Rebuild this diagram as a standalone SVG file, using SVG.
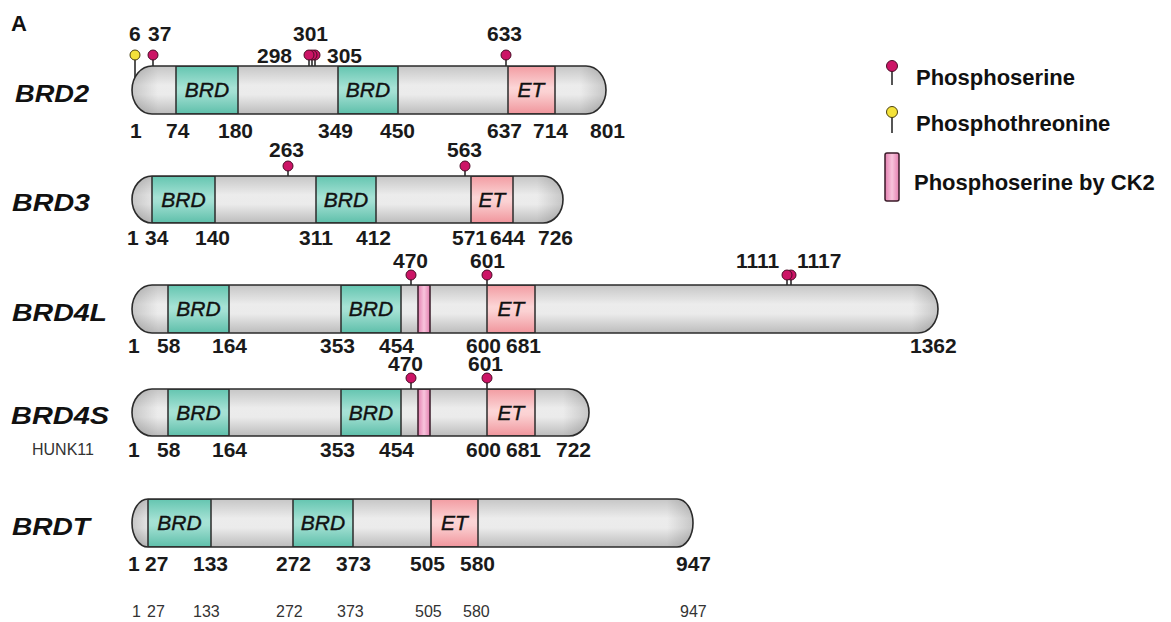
<svg xmlns="http://www.w3.org/2000/svg" width="1171" height="622" viewBox="0 0 1171 622">
<style>
.bar{fill:url(#gGray)}
.out{fill:none;stroke:#2b2b2b;stroke-width:1.6}
.brd{fill:url(#gTeal);stroke:#2b2b2b;stroke-width:1.5}
.et{fill:url(#gPink);stroke:#2b2b2b;stroke-width:1.5}
.ck2{fill:url(#gCK2);stroke:#3a1a28;stroke-width:1.5}
.capL{fill:url(#gCapL)}
.capR{fill:url(#gCapR)}
.gene{font-family:"Liberation Sans",Arial,sans-serif;font-weight:bold;font-style:italic;font-size:24px;fill:#111}
.dom{font-family:"Liberation Sans",Arial,sans-serif;font-style:italic;font-size:21px;fill:#111;stroke:#111;stroke-width:0.4;text-anchor:middle}
.num{font-family:"Liberation Sans",Arial,sans-serif;font-weight:bold;font-size:21px;fill:#1a1a1a}
.sm{font-family:"Liberation Sans",Arial,sans-serif;font-size:16px;fill:#333}
.leg{font-family:"Liberation Sans",Arial,sans-serif;font-weight:bold;font-size:22px;fill:#111}
.stem{stroke:#2b2b2b;stroke-width:1.6}
.ps{fill:#cc1466;stroke:#4a0c26;stroke-width:1}
.pt{fill:#f4e23a;stroke:#4a4010;stroke-width:1}
</style>
<defs>
<linearGradient id="gGray" x1="0" y1="0" x2="0" y2="1">
<stop offset="0" stop-color="#c6c6c6"/><stop offset="0.4" stop-color="#ececec"/><stop offset="0.6" stop-color="#ebebeb"/><stop offset="1" stop-color="#bcbcbc"/>
</linearGradient>
<linearGradient id="gCapL" x1="0" y1="0" x2="1" y2="0">
<stop offset="0" stop-color="#000" stop-opacity="0.16"/><stop offset="1" stop-color="#000" stop-opacity="0"/>
</linearGradient>
<linearGradient id="gCapR" x1="0" y1="0" x2="1" y2="0">
<stop offset="0" stop-color="#000" stop-opacity="0"/><stop offset="1" stop-color="#000" stop-opacity="0.16"/>
</linearGradient>
<linearGradient id="gTeal" x1="0" y1="0" x2="0" y2="1">
<stop offset="0" stop-color="#64c5b0"/><stop offset="0.45" stop-color="#a6e2d5"/><stop offset="0.55" stop-color="#a3e0d3"/><stop offset="1" stop-color="#5ebfaa"/>
</linearGradient>
<linearGradient id="gPink" x1="0" y1="0" x2="0" y2="1">
<stop offset="0" stop-color="#f29ca2"/><stop offset="0.45" stop-color="#fcd5d6"/><stop offset="0.55" stop-color="#fbd1d2"/><stop offset="1" stop-color="#f0959c"/>
</linearGradient>
<linearGradient id="gCK2" x1="0" y1="0" x2="1" y2="0">
<stop offset="0" stop-color="#e47fb0"/><stop offset="0.5" stop-color="#f8c4dc"/><stop offset="1" stop-color="#e47fb0"/>
</linearGradient>
<clipPath id="c2"><rect x="132" y="66" width="474" height="48" rx="20" ry="24"/></clipPath>
<clipPath id="c3"><rect x="132" y="176" width="431" height="47" rx="20" ry="23.5"/></clipPath>
<clipPath id="c4l"><rect x="132" y="285" width="806" height="48" rx="20" ry="24"/></clipPath>
<clipPath id="c4s"><rect x="132" y="389" width="457" height="47" rx="20" ry="23.5"/></clipPath>
<clipPath id="ct"><rect x="132" y="499" width="561" height="48" rx="16" ry="24"/></clipPath>
</defs>

<rect width="1171" height="622" fill="#ffffff"/>
<text x="11" y="31" font-family="Liberation Sans, Arial, sans-serif" font-weight="bold" font-size="22" fill="#111">A</text>

<g id="connectors"/>

<g id="BRD2">
<line class="stem" x1="135" y1="55" x2="135" y2="82"/>
<line class="stem" x1="153" y1="55" x2="153" y2="72"/>
<line class="stem" x1="309" y1="55" x2="309" y2="72"/>
<line class="stem" x1="312" y1="55" x2="312" y2="72"/>
<line class="stem" x1="315" y1="55" x2="315" y2="72"/>
<line class="stem" x1="506" y1="55" x2="506" y2="72"/>
<rect class="bar" x="132" y="66" width="474" height="48" rx="20" ry="24"/>
<g clip-path="url(#c2)">
<rect class="capL" x="132" y="66" width="26" height="48"/>
<rect class="capR" x="580" y="66" width="26" height="48"/>
<rect class="brd" x="176" y="66" width="62" height="48"/>
<rect class="brd" x="338" y="66" width="60" height="48"/>
<rect class="et" x="508" y="66" width="47" height="48"/>
</g>
<rect class="out" x="132" y="66" width="474" height="48" rx="20" ry="24"/>
<circle class="pt" cx="135" cy="55" r="5"/>
<circle class="ps" cx="153" cy="55" r="5"/>
<circle class="ps" cx="315" cy="55" r="5"/>
<circle class="ps" cx="312" cy="55" r="5"/>
<circle class="ps" cx="309" cy="55" r="5"/>
<circle class="ps" cx="506" cy="55" r="5"/>
<text class="dom" x="207" y="97">BRD</text>
<text class="dom" x="368" y="97">BRD</text>
<text class="dom" x="531" y="97">ET</text>
<text class="gene" x="15" y="102" textLength="74" lengthAdjust="spacingAndGlyphs">BRD2</text>
<text class="num" x="129" y="41">6</text>
<text class="num" x="148" y="41">37</text>
<text class="num" x="293" y="41">301</text>
<text class="num" x="257" y="63">298</text>
<text class="num" x="327" y="63">305</text>
<text class="num" x="487" y="41">633</text>
<text class="num" x="130" y="138">1</text>
<text class="num" x="166" y="138">74</text>
<text class="num" x="218" y="138">180</text>
<text class="num" x="318" y="138">349</text>
<text class="num" x="380" y="138">450</text>
<text class="num" x="487" y="138">637</text>
<text class="num" x="533" y="138">714</text>
<text class="num" x="590" y="138">801</text>
</g>

<g id="BRD3">
<line class="stem" x1="288" y1="166" x2="288" y2="182"/>
<line class="stem" x1="465" y1="166" x2="465" y2="182"/>
<rect class="bar" x="132" y="176" width="431" height="47" rx="20" ry="23.5"/>
<g clip-path="url(#c3)">
<rect class="capL" x="132" y="176" width="26" height="47"/>
<rect class="capR" x="537" y="176" width="26" height="47"/>
<rect class="brd" x="152" y="176" width="63" height="47"/>
<rect class="brd" x="316" y="176" width="60" height="47"/>
<rect class="et" x="471" y="176" width="42" height="47"/>
</g>
<rect class="out" x="132" y="176" width="431" height="47" rx="20" ry="23.5"/>
<circle class="ps" cx="288" cy="166" r="5"/>
<circle class="ps" cx="465" cy="166" r="5"/>
<text class="dom" x="183.5" y="207">BRD</text>
<text class="dom" x="346" y="207">BRD</text>
<text class="dom" x="492" y="207">ET</text>
<text class="gene" x="12" y="211" textLength="78" lengthAdjust="spacingAndGlyphs">BRD3</text>
<text class="num" x="269" y="157">263</text>
<text class="num" x="447" y="157">563</text>
<text class="num" x="127" y="245">1</text>
<text class="num" x="145" y="245">34</text>
<text class="num" x="195" y="245">140</text>
<text class="num" x="299" y="245">311</text>
<text class="num" x="356" y="245">412</text>
<text class="num" x="452" y="245">571</text>
<text class="num" x="490" y="245">644</text>
<text class="num" x="538" y="245">726</text>
</g>

<g id="BRD4L">
<line class="stem" x1="411" y1="275" x2="411" y2="291"/>
<line class="stem" x1="487" y1="275" x2="487" y2="291"/>
<line class="stem" x1="787" y1="275" x2="787" y2="291"/>
<line class="stem" x1="791" y1="275" x2="791" y2="291"/>
<rect class="bar" x="132" y="285" width="806" height="48" rx="20" ry="24"/>
<g clip-path="url(#c4l)">
<rect class="capL" x="132" y="285" width="26" height="48"/>
<rect class="capR" x="912" y="285" width="26" height="48"/>
<rect class="brd" x="168" y="285" width="61" height="48"/>
<rect class="brd" x="341" y="285" width="60" height="48"/>
<rect class="ck2" x="418" y="285" width="12" height="48"/>
<rect class="et" x="487" y="285" width="48" height="48"/>
</g>
<rect class="out" x="132" y="285" width="806" height="48" rx="20" ry="24"/>
<circle class="ps" cx="411" cy="275" r="5"/>
<circle class="ps" cx="487" cy="275" r="5"/>
<circle class="ps" cx="791" cy="275" r="5"/>
<circle class="ps" cx="787" cy="275" r="5"/>
<text class="dom" x="198.5" y="316">BRD</text>
<text class="dom" x="371" y="316">BRD</text>
<text class="dom" x="511" y="316">ET</text>
<text class="gene" x="12" y="321" textLength="95" lengthAdjust="spacingAndGlyphs">BRD4L</text>
<text class="num" x="393" y="268">470</text>
<text class="num" x="470" y="268">601</text>
<text class="num" x="736" y="268">1111</text>
<text class="num" x="797" y="268">1117</text>
<text class="num" x="128" y="353">1</text>
<text class="num" x="157" y="353">58</text>
<text class="num" x="212" y="353">164</text>
<text class="num" x="320" y="353">353</text>
<text class="num" x="379" y="353">454</text>
<text class="num" x="466" y="353">600</text>
<text class="num" x="506" y="353">681</text>
<text class="num" x="910" y="353">1362</text>
</g>

<g id="BRD4S">
<line class="stem" x1="411" y1="378" x2="411" y2="395"/>
<line class="stem" x1="487" y1="378" x2="487" y2="395"/>
<rect class="bar" x="132" y="389" width="457" height="47" rx="20" ry="23.5"/>
<g clip-path="url(#c4s)">
<rect class="capL" x="132" y="389" width="26" height="47"/>
<rect class="capR" x="563" y="389" width="26" height="47"/>
<rect class="brd" x="168" y="389" width="61" height="47"/>
<rect class="brd" x="341" y="389" width="60" height="47"/>
<rect class="ck2" x="418" y="389" width="12" height="47"/>
<rect class="et" x="487" y="389" width="48" height="47"/>
</g>
<rect class="out" x="132" y="389" width="457" height="47" rx="20" ry="23.5"/>
<circle class="ps" cx="411" cy="378" r="5"/>
<circle class="ps" cx="487" cy="378" r="5"/>
<text class="dom" x="198.5" y="420">BRD</text>
<text class="dom" x="371" y="420">BRD</text>
<text class="dom" x="511" y="420">ET</text>
<text class="gene" x="11" y="424" textLength="98" lengthAdjust="spacingAndGlyphs">BRD4S</text>
<text class="sm" x="32" y="455" font-size="15">HUNK11</text>
<text class="num" x="388" y="371">470</text>
<text class="num" x="468" y="371">601</text>
<text class="num" x="128" y="457">1</text>
<text class="num" x="157" y="457">58</text>
<text class="num" x="212" y="457">164</text>
<text class="num" x="320" y="457">353</text>
<text class="num" x="379" y="457">454</text>
<text class="num" x="466" y="457">600</text>
<text class="num" x="506" y="457">681</text>
<text class="num" x="556" y="457">722</text>
</g>

<g id="BRDT">
<rect class="bar" x="132" y="499" width="561" height="48" rx="16" ry="24"/>
<g clip-path="url(#ct)">
<rect class="capL" x="132" y="499" width="20" height="48"/>
<rect class="capR" x="667" y="499" width="26" height="48"/>
<rect class="brd" x="148" y="499" width="63" height="48"/>
<rect class="brd" x="293" y="499" width="60" height="48"/>
<rect class="et" x="431" y="499" width="47" height="48"/>
</g>
<rect class="out" x="132" y="499" width="561" height="48" rx="16" ry="24"/>
<text class="dom" x="179.5" y="530">BRD</text>
<text class="dom" x="323" y="530">BRD</text>
<text class="dom" x="454.5" y="530">ET</text>
<text class="gene" x="12" y="535" textLength="78" lengthAdjust="spacingAndGlyphs">BRDT</text>
<text class="num" x="128" y="571">1</text>
<text class="num" x="145" y="571">27</text>
<text class="num" x="193" y="571">133</text>
<text class="num" x="276" y="571">272</text>
<text class="num" x="336" y="571">373</text>
<text class="num" x="410" y="571">505</text>
<text class="num" x="460" y="571">580</text>
<text class="num" x="676" y="571">947</text>
<text class="sm" x="132" y="617">1</text>
<text class="sm" x="147" y="617">27</text>
<text class="sm" x="193" y="617">133</text>
<text class="sm" x="276" y="617">272</text>
<text class="sm" x="337" y="617">373</text>
<text class="sm" x="415" y="617">505</text>
<text class="sm" x="463" y="617">580</text>
<text class="sm" x="680" y="617">947</text>
</g>

<g id="legend">
<line class="stem" x1="892" y1="66" x2="892" y2="85"/>
<circle class="ps" cx="892" cy="66" r="5.5"/>
<text class="leg" x="916" y="85">Phosphoserine</text>
<line class="stem" x1="892" y1="112" x2="892" y2="133"/>
<circle class="pt" cx="892" cy="112" r="5.5"/>
<text class="leg" x="916" y="131">Phosphothreonine</text>
<rect class="ck2" x="885" y="153" width="14" height="48" rx="2"/>
<text class="leg" x="914" y="190">Phosphoserine by CK2</text>
</g>
</svg>
